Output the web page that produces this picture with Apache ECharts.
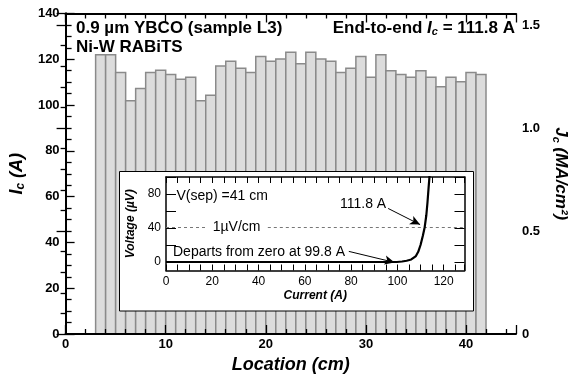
<!DOCTYPE html>
<html><head><meta charset="utf-8">
<script src="https://cdn.jsdelivr.net/npm/echarts@6/dist/echarts.min.js"></script>
<style>html,body{margin:0;padding:0;background:#fff}#c{width:577px;height:381px}</style>
</head><body><div id="c"></div>
<script>
// Main chart data: Ic per 1-cm segment (bar centres in cm)
const locationCm = [3.5,4.5,5.5,6.5,7.5,8.5,9.5,10.5,11.5,12.5,13.5,14.5,15.5,16.5,17.5,18.5,19.5,20.5,21.5,22.5,23.5,24.5,25.5,26.5,27.5,28.5,29.5,30.5,31.5,32.5,33.5,34.5,35.5,36.5,37.5,38.5,39.5,40.5,41.5];
const icA = [122.0,122.0,114.2,101.9,107.2,114.2,115.2,113.3,111.3,112.1,101.9,104.3,117.1,119.1,116.1,114.2,121.2,119.1,120.1,123.1,118.1,123.1,120.1,119.1,114.2,116.1,121.2,112.1,122.0,115.0,113.3,112.1,115.0,112.1,108.0,112.1,110.2,114.2,113.3];
const jcTicks = ['0','0.5','1.0','1.5'];
// Inset: V-I curve
const currentA = [0,10,20,30,40,50,60,70,80,90,95,98,99.8,102,104,106,108,109,110,111,111.8,112.5,113,113.5,114];
const voltageUV = [0,0,0,0,0,0,0,0,0,0,0,0,0,0.6,1.5,3,7,12,20,31,41,55,70,88,105];
const insetVTicks = [0,20,40,60,80,100];
const insetVLabels = [0,40,80];
const criterionUV = 41;

const FONT = 'Liberation Sans';
const chart = echarts.init(document.getElementById('c'), null, {renderer:'canvas'});
const jcMax = 140/90;

const mainG = {left:63.5, right:48, top:13.5, bottom:47};
const insetG = {left:166, right:577-464.5, top:177, bottom:381-270.5};

const tickStyle = {color:'#000', width:1.3};
function mainX(pos, show){
  return {type:'value', gridIndex:0, position:pos, min:0, max:45, interval:10,
    axisLine:{show:true, onZero:false, lineStyle:{color:'#000', width:2}},
    axisTick:{show:true, inside:true, length:9, lineStyle:tickStyle},
    minorTick:{show:true, splitNumber:5, length:5, lineStyle:tickStyle},
    axisLabel:{show:show, margin:4, fontFamily:FONT, fontWeight:'bold', fontSize:13, color:'#000', showMaxLabel:false},
    splitLine:{show:false}, z:6,
    name: show ? 'Location (cm)' : '', nameLocation:'middle', nameGap:22,
    nameTextStyle:{fontFamily:FONT, fontWeight:'bold', fontStyle:'italic', fontSize:18, color:'#000', verticalAlign:'top'}};
}
function insetX(pos, show){
  return {type:'value', gridIndex:1, position:pos, min:0, max:129, interval:20,
    axisLine:{show:true, onZero:false, lineStyle:{color:'#000', width:1.5}},
    axisTick:{show:true, inside:true, length:6, lineStyle:{color:'#000', width:1}},
    minorTick:{show:true, splitNumber:4, length:6, lineStyle:{color:'#000', width:1}},
    axisLabel:{show:show, margin:5, fontFamily:FONT, fontSize:12, color:'#000', showMaxLabel:false},
    splitLine:{show:false}, z:10,
    name: show ? 'Current (A)' : '', nameLocation:'middle', nameGap:19,
    nameTextStyle:{fontFamily:FONT, fontWeight:'bold', fontStyle:'italic', fontSize:12, color:'#000', verticalAlign:'top'}};
}
function insetY(pos, show){
  return {type:'value', gridIndex:1, position:pos, min:-10, max:100,
    axisLine:{show:true, onZero:false, lineStyle:{color:'#000', width:1.5}},
    axisTick:{show:true, inside:true, length:10, customValues:insetVTicks, lineStyle:{color:'#000', width:1}},
    axisLabel:{show:show, margin:5, fontFamily:FONT, fontSize:12, color:'#000', customValues:insetVLabels},
    splitLine:{show:false}, z:10,
    name: show ? 'Voltage (µV)' : '', nameLocation:'middle', nameGap:24, nameRotate:90,
    nameTextStyle:{fontFamily:FONT, fontWeight:'bold', fontStyle:'italic', fontSize:12, color:'#000'}};
}
const richName = (size)=>({
  i:{fontFamily:FONT, fontWeight:'bold', fontStyle:'italic', fontSize:size, color:'#000'},
  s:{fontFamily:FONT, fontWeight:'bold', fontStyle:'italic', fontSize:Math.round(size*0.65), color:'#000', verticalAlign:'bottom', padding:[Math.round(size*0.45),0,0,0]},
  n:{fontFamily:FONT, fontWeight:'bold', fontStyle:'italic', fontSize:size, color:'#000'}});

const option = {
  animation:false,
  backgroundColor:'#fff',
  grid:[Object.assign({containLabel:false}, mainG), Object.assign({containLabel:false, show:true, backgroundColor:'#fff', borderWidth:0, z:8}, insetG)],
  xAxis:[mainX('bottom', true), mainX('top', false), insetX('bottom', true), insetX('top', false)],
  yAxis:[
    {type:'value', gridIndex:0, position:'left', min:0, max:140, interval:20,
     axisLine:{show:true, lineStyle:{color:'#000', width:2}},
     axisTick:{show:true, inside:true, length:9, lineStyle:tickStyle},
     minorTick:{show:true, splitNumber:4, length:6, lineStyle:tickStyle},
     axisLabel:{margin:6, fontFamily:FONT, fontWeight:'bold', fontSize:13, color:'#000'},
     splitLine:{show:false}, z:6,
     name:'{i|I}{s|c}{n| (A)}', nameLocation:'middle', nameGap:32, nameRotate:90,
     nameTextStyle:{rich:richName(18)}},
    {type:'value', gridIndex:0, position:'right', min:0, max:jcMax, interval:0.5,
     axisLine:{show:true, lineStyle:{color:'#000', width:2}},
     axisTick:{show:true, inside:true, length:9, lineStyle:tickStyle},
     minorTick:{show:true, splitNumber:5, length:5, lineStyle:tickStyle},
     axisLabel:{margin:6, fontFamily:FONT, fontWeight:'bold', fontSize:13, color:'#000', showMaxLabel:false,
       formatter:(v)=>{const i=Math.round(v/0.5); return jcTicks[i]!==undefined?jcTicks[i]:'';}},
     splitLine:{show:false}, z:6,
     name:'{i|J}{s|c}{n| (MA/cm²)}', nameLocation:'middle', nameGap:24, nameRotate:-90,
     nameTextStyle:{rich:richName(17)}},
    insetY('left', true), insetY('right', false)
  ],
  graphic:[
    {type:'rect', z:7, shape:{x:119.5, y:171.5, width:354, height:139.5}, style:{fill:'#fff', stroke:'#000', lineWidth:1}},
    {type:'text', z:20, left:76, top:19.5, style:{text:'0.9 µm YBCO (sample L3)', font:'bold 17px "Liberation Sans"', fill:'#000'}},
    {type:'text', z:20, left:76, top:39, style:{text:'Ni-W RABiTS', font:'bold 17px "Liberation Sans"', fill:'#000'}},
    {type:'text', z:20, right:62, top:19.5, style:{text:'{n|End-to-end }{i|I}{s|c}{n| = 111.8 A}', rich:{
       n:{font:'bold 17px "Liberation Sans"', fill:'#000'},
       i:{font:'bold italic 17px "Liberation Sans"', fill:'#000'},
       s:{font:'bold italic 11px "Liberation Sans"', fill:'#000', padding:[8,0,0,0]}}}},
    {type:'text', z:20, left:176.5, top:189, style:{text:'V(sep) =41 cm', font:'14px "Liberation Sans"', fill:'#000'}},
    {type:'text', z:20, left:173, top:245.5, style:{text:'Departs from zero at 99.8 A', font:'14px "Liberation Sans"', fill:'#000'}},
    {type:'text', z:20, left:340, top:197, style:{text:'111.8 A', font:'14px "Liberation Sans"', fill:'#000'}}
  ],
  series:[
    {type:'custom', xAxisIndex:0, yAxisIndex:0, z:2, clip:true,
     data: locationCm.map((x,i)=>[x, icA[i]]),
     renderItem:(params, api)=>{
       const x = api.value(0), y = api.value(1);
       const p0 = api.coord([x-0.5, y]);
       const p1 = api.coord([x+0.5, 0]);
       return {type:'rect', shape:{x:p0[0], y:p0[1], width:p1[0]-p0[0], height:p1[1]-p0[1]},
         style:{fill:'#dcdcdc', stroke:'#8a8a8a', lineWidth:1.5}};
     }},
    {type:'line', xAxisIndex:2, yAxisIndex:2, z:12, data: currentA.map((c,i)=>[c, voltageUV[i]]),
     showSymbol:false, symbol:'none', clip:true, lineStyle:{color:'#000', width:2.2},
     markLine:{z:11, silent:true, symbol:['none','none'], label:{show:false},
       lineStyle:{color:'#777', type:[3,3], width:1},
       data:[[{coord:[0,criterionUV]},{coord:[17,criterionUV]}],[{coord:[44,criterionUV]},{coord:[129,criterionUV]}]]},
     markPoint:{z:13, silent:true, symbol:'circle', symbolSize:0,
       label:{show:true, formatter:'1µV/cm', fontFamily:FONT, fontSize:14, color:'#000', position:'inside'},
       data:[{coord:[30.5,criterionUV]}]}},
    {type:'line', xAxisIndex:2, yAxisIndex:2, z:12, data:[[0,-100]], symbol:'none', lineStyle:{opacity:0},
     markLine:{z:13, silent:true, symbol:['none','arrow'], symbolSize:[7,10], label:{show:false},
       lineStyle:{color:'#000', type:'solid', width:1},
       data:[[{coord:[79,12.5]},{coord:[98.8,-0.5]}],[{coord:[96,63]},{coord:[109.8,44]}]]}}
  ]
};
chart.setOption(option);
</script></body></html>
